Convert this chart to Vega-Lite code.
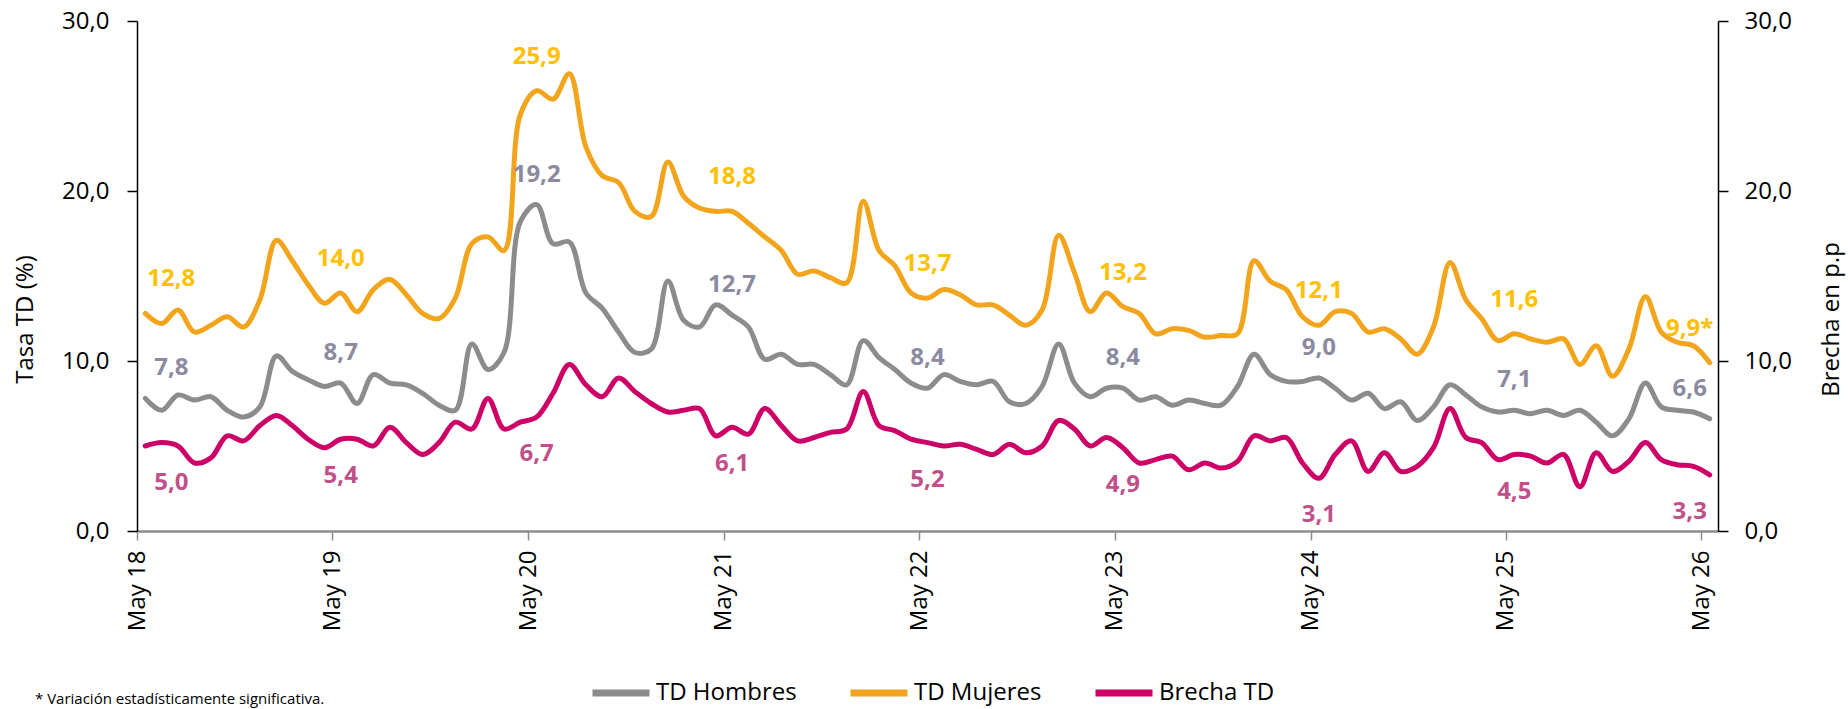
{
  "$schema": "https://vega.github.io/schema/vega-lite/v6.json",
  "width": 1581,
  "height": 510,
  "autosize": {"type": "none"},
  "padding": {"left": 137, "top": 21, "right": 130, "bottom": 178},
  "background": "white",
  "config": {
    "view": {"stroke": null},
    "font": "Open Sans",
    "axis": {"labelFont": "Open Sans", "titleFont": "Open Sans", "grid": false}
  },
  "title": {
    "text": "* Variación estadísticamente significativa.",
    "orient": "top",
    "anchor": "start",
    "frame": "group",
    "font": "Open Sans",
    "fontSize": 15,
    "fontWeight": "normal",
    "color": "#000000",
    "baseline": "middle",
    "dx": -102,
    "dy": 705,
    "offset": 0
  },
  "datasets": {
    "serie": [
      {"d": "2018-05-01", "hombres": 7.8, "mujeres": 12.8, "brecha": 5.0},
      {"d": "2018-06-01", "hombres": 7.1, "mujeres": 12.2, "brecha": 5.2},
      {"d": "2018-07-01", "hombres": 8.0, "mujeres": 13.0, "brecha": 5.0},
      {"d": "2018-08-01", "hombres": 7.7, "mujeres": 11.7, "brecha": 4.0},
      {"d": "2018-09-01", "hombres": 7.9, "mujeres": 12.1, "brecha": 4.3},
      {"d": "2018-10-01", "hombres": 7.1, "mujeres": 12.6, "brecha": 5.6},
      {"d": "2018-11-01", "hombres": 6.7, "mujeres": 12.0, "brecha": 5.3},
      {"d": "2018-12-01", "hombres": 7.3, "mujeres": 13.6, "brecha": 6.2},
      {"d": "2019-01-01", "hombres": 10.3, "mujeres": 17.1, "brecha": 6.8},
      {"d": "2019-02-01", "hombres": 9.4, "mujeres": 15.9, "brecha": 6.2},
      {"d": "2019-03-01", "hombres": 8.9, "mujeres": 14.5, "brecha": 5.4},
      {"d": "2019-04-01", "hombres": 8.5, "mujeres": 13.4, "brecha": 4.9},
      {"d": "2019-05-01", "hombres": 8.7, "mujeres": 14.0, "brecha": 5.4},
      {"d": "2019-06-01", "hombres": 7.5, "mujeres": 12.9, "brecha": 5.4},
      {"d": "2019-07-01", "hombres": 9.2, "mujeres": 14.2, "brecha": 5.0},
      {"d": "2019-08-01", "hombres": 8.7, "mujeres": 14.8, "brecha": 6.1},
      {"d": "2019-09-01", "hombres": 8.6, "mujeres": 13.9, "brecha": 5.2},
      {"d": "2019-10-01", "hombres": 8.1, "mujeres": 12.8, "brecha": 4.5},
      {"d": "2019-11-01", "hombres": 7.4, "mujeres": 12.5, "brecha": 5.2},
      {"d": "2019-12-01", "hombres": 7.1, "mujeres": 13.7, "brecha": 6.4},
      {"d": "2020-01-01", "hombres": 11.0, "mujeres": 16.9, "brecha": 6.0},
      {"d": "2020-02-01", "hombres": 9.5, "mujeres": 17.3, "brecha": 7.8},
      {"d": "2020-03-01", "hombres": 10.5, "mujeres": 16.5, "brecha": 6.0},
      {"d": "2020-04-01", "hombres": 18.2, "mujeres": 24.5, "brecha": 6.4},
      {"d": "2020-05-01", "hombres": 19.2, "mujeres": 25.9, "brecha": 6.7},
      {"d": "2020-06-01", "hombres": 16.9, "mujeres": 25.4, "brecha": 8.1},
      {"d": "2020-07-01", "hombres": 17.0, "mujeres": 26.9, "brecha": 9.8},
      {"d": "2020-08-01", "hombres": 14.0, "mujeres": 22.6, "brecha": 8.6},
      {"d": "2020-09-01", "hombres": 13.1, "mujeres": 20.9, "brecha": 7.9},
      {"d": "2020-10-01", "hombres": 11.7, "mujeres": 20.5, "brecha": 9.0},
      {"d": "2020-11-01", "hombres": 10.5, "mujeres": 18.8, "brecha": 8.2},
      {"d": "2020-12-01", "hombres": 10.7, "mujeres": 18.5, "brecha": 7.5},
      {"d": "2021-01-01", "hombres": 14.7, "mujeres": 21.7, "brecha": 7.0},
      {"d": "2021-02-01", "hombres": 12.4, "mujeres": 19.7, "brecha": 7.1},
      {"d": "2021-03-01", "hombres": 12.0, "mujeres": 19.0, "brecha": 7.2},
      {"d": "2021-04-01", "hombres": 13.3, "mujeres": 18.8, "brecha": 5.6},
      {"d": "2021-05-01", "hombres": 12.7, "mujeres": 18.8, "brecha": 6.1},
      {"d": "2021-06-01", "hombres": 12.0, "mujeres": 18.1, "brecha": 5.7},
      {"d": "2021-07-01", "hombres": 10.1, "mujeres": 17.3, "brecha": 7.2},
      {"d": "2021-08-01", "hombres": 10.4, "mujeres": 16.5, "brecha": 6.2},
      {"d": "2021-09-01", "hombres": 9.8, "mujeres": 15.1, "brecha": 5.3},
      {"d": "2021-10-01", "hombres": 9.8, "mujeres": 15.3, "brecha": 5.5},
      {"d": "2021-11-01", "hombres": 9.2, "mujeres": 14.9, "brecha": 5.8},
      {"d": "2021-12-01", "hombres": 8.6, "mujeres": 14.6, "brecha": 6.0},
      {"d": "2022-01-01", "hombres": 11.2, "mujeres": 19.4, "brecha": 8.2},
      {"d": "2022-02-01", "hombres": 10.2, "mujeres": 16.5, "brecha": 6.2},
      {"d": "2022-03-01", "hombres": 9.5, "mujeres": 15.6, "brecha": 5.9},
      {"d": "2022-04-01", "hombres": 8.7, "mujeres": 14.0, "brecha": 5.4},
      {"d": "2022-05-01", "hombres": 8.4, "mujeres": 13.7, "brecha": 5.2},
      {"d": "2022-06-01", "hombres": 9.2, "mujeres": 14.2, "brecha": 5.0},
      {"d": "2022-07-01", "hombres": 8.8, "mujeres": 13.9, "brecha": 5.1},
      {"d": "2022-08-01", "hombres": 8.6, "mujeres": 13.3, "brecha": 4.8},
      {"d": "2022-09-01", "hombres": 8.8, "mujeres": 13.3, "brecha": 4.5},
      {"d": "2022-10-01", "hombres": 7.6, "mujeres": 12.7, "brecha": 5.1},
      {"d": "2022-11-01", "hombres": 7.5, "mujeres": 12.1, "brecha": 4.6},
      {"d": "2022-12-01", "hombres": 8.5, "mujeres": 13.0, "brecha": 5.0},
      {"d": "2023-01-01", "hombres": 11.0, "mujeres": 17.4, "brecha": 6.5},
      {"d": "2023-02-01", "hombres": 8.7, "mujeres": 15.2, "brecha": 6.0},
      {"d": "2023-03-01", "hombres": 7.9, "mujeres": 12.9, "brecha": 5.0},
      {"d": "2023-04-01", "hombres": 8.4, "mujeres": 14.0, "brecha": 5.5},
      {"d": "2023-05-01", "hombres": 8.4, "mujeres": 13.2, "brecha": 4.9},
      {"d": "2023-06-01", "hombres": 7.7, "mujeres": 12.8, "brecha": 4.0},
      {"d": "2023-07-01", "hombres": 7.9, "mujeres": 11.6, "brecha": 4.2},
      {"d": "2023-08-01", "hombres": 7.4, "mujeres": 11.9, "brecha": 4.4},
      {"d": "2023-09-01", "hombres": 7.7, "mujeres": 11.8, "brecha": 3.6},
      {"d": "2023-10-01", "hombres": 7.5, "mujeres": 11.4, "brecha": 4.0},
      {"d": "2023-11-01", "hombres": 7.4, "mujeres": 11.5, "brecha": 3.7},
      {"d": "2023-12-01", "hombres": 8.5, "mujeres": 11.6, "brecha": 4.1},
      {"d": "2024-01-01", "hombres": 10.4, "mujeres": 15.9, "brecha": 5.6},
      {"d": "2024-02-01", "hombres": 9.2, "mujeres": 14.7, "brecha": 5.3},
      {"d": "2024-03-01", "hombres": 8.8, "mujeres": 14.2, "brecha": 5.5},
      {"d": "2024-04-01", "hombres": 8.8, "mujeres": 12.6, "brecha": 4.0},
      {"d": "2024-05-01", "hombres": 9.0, "mujeres": 12.1, "brecha": 3.1},
      {"d": "2024-06-01", "hombres": 8.4, "mujeres": 12.9, "brecha": 4.5},
      {"d": "2024-07-01", "hombres": 7.7, "mujeres": 12.8, "brecha": 5.3},
      {"d": "2024-08-01", "hombres": 8.1, "mujeres": 11.7, "brecha": 3.5},
      {"d": "2024-09-01", "hombres": 7.2, "mujeres": 11.9, "brecha": 4.6},
      {"d": "2024-10-01", "hombres": 7.6, "mujeres": 11.3, "brecha": 3.5},
      {"d": "2024-11-01", "hombres": 6.5, "mujeres": 10.4, "brecha": 3.8},
      {"d": "2024-12-01", "hombres": 7.3, "mujeres": 12.0, "brecha": 4.9},
      {"d": "2025-01-01", "hombres": 8.6, "mujeres": 15.8, "brecha": 7.2},
      {"d": "2025-02-01", "hombres": 8.0, "mujeres": 13.6, "brecha": 5.5},
      {"d": "2025-03-01", "hombres": 7.3, "mujeres": 12.5, "brecha": 5.2},
      {"d": "2025-04-01", "hombres": 7.0, "mujeres": 11.2, "brecha": 4.2},
      {"d": "2025-05-01", "hombres": 7.1, "mujeres": 11.6, "brecha": 4.5},
      {"d": "2025-06-01", "hombres": 6.9, "mujeres": 11.3, "brecha": 4.4},
      {"d": "2025-07-01", "hombres": 7.1, "mujeres": 11.1, "brecha": 4.0},
      {"d": "2025-08-01", "hombres": 6.8, "mujeres": 11.3, "brecha": 4.5},
      {"d": "2025-09-01", "hombres": 7.1, "mujeres": 9.8, "brecha": 2.6},
      {"d": "2025-10-01", "hombres": 6.4, "mujeres": 10.9, "brecha": 4.6},
      {"d": "2025-11-01", "hombres": 5.6, "mujeres": 9.1, "brecha": 3.5},
      {"d": "2025-12-01", "hombres": 6.6, "mujeres": 10.7, "brecha": 4.1},
      {"d": "2026-01-01", "hombres": 8.7, "mujeres": 13.8, "brecha": 5.2},
      {"d": "2026-02-01", "hombres": 7.3, "mujeres": 11.7, "brecha": 4.2},
      {"d": "2026-03-01", "hombres": 7.1, "mujeres": 11.1, "brecha": 3.9},
      {"d": "2026-04-01", "hombres": 7.0, "mujeres": 10.9, "brecha": 3.8},
      {"d": "2026-05-01", "hombres": 6.6, "mujeres": 9.9, "brecha": 3.3}
    ],
    "etiquetas": [
      {"d": "2018-05-01", "serie": "mujeres", "valor": 12.8, "t": "12,8"},
      {"d": "2019-05-01", "serie": "mujeres", "valor": 14.0, "t": "14,0"},
      {"d": "2020-05-01", "serie": "mujeres", "valor": 25.9, "t": "25,9"},
      {"d": "2021-05-01", "serie": "mujeres", "valor": 18.8, "t": "18,8"},
      {"d": "2022-05-01", "serie": "mujeres", "valor": 13.7, "t": "13,7"},
      {"d": "2023-05-01", "serie": "mujeres", "valor": 13.2, "t": "13,2"},
      {"d": "2024-05-01", "serie": "mujeres", "valor": 12.1, "t": "12,1"},
      {"d": "2025-05-01", "serie": "mujeres", "valor": 11.6, "t": "11,6"},
      {"d": "2026-05-01", "serie": "mujeres", "valor": 9.9, "t": "9,9*"},
      {"d": "2018-05-01", "serie": "hombres", "valor": 7.8, "t": "7,8"},
      {"d": "2019-05-01", "serie": "hombres", "valor": 8.7, "t": "8,7"},
      {"d": "2020-05-01", "serie": "hombres", "valor": 19.2, "t": "19,2"},
      {"d": "2021-05-01", "serie": "hombres", "valor": 12.7, "t": "12,7"},
      {"d": "2022-05-01", "serie": "hombres", "valor": 8.4, "t": "8,4"},
      {"d": "2023-05-01", "serie": "hombres", "valor": 8.4, "t": "8,4"},
      {"d": "2024-05-01", "serie": "hombres", "valor": 9.0, "t": "9,0"},
      {"d": "2025-05-01", "serie": "hombres", "valor": 7.1, "t": "7,1"},
      {"d": "2026-05-01", "serie": "hombres", "valor": 6.6, "t": "6,6"},
      {"d": "2018-05-01", "serie": "brecha", "valor": 5.0, "t": "5,0"},
      {"d": "2019-05-01", "serie": "brecha", "valor": 5.4, "t": "5,4"},
      {"d": "2020-05-01", "serie": "brecha", "valor": 6.7, "t": "6,7"},
      {"d": "2021-05-01", "serie": "brecha", "valor": 6.1, "t": "6,1"},
      {"d": "2022-05-01", "serie": "brecha", "valor": 5.2, "t": "5,2"},
      {"d": "2023-05-01", "serie": "brecha", "valor": 4.9, "t": "4,9"},
      {"d": "2024-05-01", "serie": "brecha", "valor": 3.1, "t": "3,1"},
      {"d": "2025-05-01", "serie": "brecha", "valor": 4.5, "t": "4,5"},
      {"d": "2026-05-01", "serie": "brecha", "valor": 3.3, "t": "3,3"}
    ]
  },
  "layer": [
    {
      "data": {"name": "serie"},
      "transform": [{"fold": ["hombres", "mujeres"], "as": ["serie", "valor"]}],
      "mark": {"type": "line", "interpolate": "catmull-rom", "strokeWidth": 5, "strokeCap": "round", "strokeJoin": "round"},
      "encoding": {
        "x": {
          "field": "d", "type": "temporal", "timeUnit": "utcyearmonth", "bandPosition": 0.5,
          "scale": {"domain": [{"year": 2018, "month": 5, "date": 1, "utc": true}, {"year": 2026, "month": 6, "date": 1, "utc": true}], "nice": false},
          "axis": {
            "values": [
              {"year": 2018, "month": 5, "date": 1, "utc": true},
              {"year": 2019, "month": 5, "date": 1, "utc": true},
              {"year": 2020, "month": 5, "date": 1, "utc": true},
              {"year": 2021, "month": 5, "date": 1, "utc": true},
              {"year": 2022, "month": 5, "date": 1, "utc": true},
              {"year": 2023, "month": 5, "date": 1, "utc": true},
              {"year": 2024, "month": 5, "date": 1, "utc": true},
              {"year": 2025, "month": 5, "date": 1, "utc": true},
              {"year": 2026, "month": 5, "date": 1, "utc": true}
            ],
            "labelExpr": "utcFormat(datum.value, '%b %y')",
            "labelAngle": -90,
            "labelAlign": "right",
            "labelBaseline": "middle",
            "labelFontSize": 24,
            "labelColor": "#000000",
            "labelPadding": 10,
            "labelFlush": false,
            "labelOverlap": false,
            "tickSize": 9,
            "tickWidth": 1.5,
            "tickColor": "#8c8c8c",
            "domainColor": "#8c8c8c",
            "domainWidth": 2.5,
            "title": null
          }
        },
        "y": {
          "field": "valor", "type": "quantitative",
          "scale": {"domain": [0, 30], "nice": false},
          "axis": {
            "orient": "left",
            "values": [0, 10, 20, 30],
            "labelExpr": "replace(format(datum.value, '.1f'), '.', ',')",
            "labelFontSize": 24,
            "labelColor": "#000000",
            "labelPadding": 18,
            "tickSize": 10,
            "tickColor": "#000000",
            "domainColor": "#000000",
            "domainWidth": 1.5,
            "tickWidth": 1.5,
            "title": "Tasa  TD (%)",
            "titleFontSize": 24,
            "titleFontWeight": "normal",
            "titleColor": "#000000",
            "titleAngle": 270,
            "titleBaseline": "middle",
            "titleAlign": "center",
            "titleX": -112,
            "titleY": 298
          }
        },
        "color": {
          "field": "serie", "type": "nominal",
          "scale": {"domain": ["hombres", "mujeres", "brecha"], "range": ["#8c8c8c", "#f2a51c", "#cc0066"]},
          "legend": {
            "orient": "none",
            "legendX": 452,
            "legendY": 640,
            "direction": "horizontal",
            "title": null,
            "symbolType": "stroke",
            "symbolSize": 3249,
            "symbolStrokeWidth": 7,
            "labelFont": "Open Sans",
            "labelFontSize": 24,
            "labelColor": "#000000",
            "labelOffset": 3,
            "columnPadding": 39,
            "padding": 0,
            "labelExpr": "datum.label == 'hombres' ? 'TD Hombres' : (datum.label == 'mujeres' ? 'TD Mujeres' : 'Brecha TD')"
          }
        }
      }
    },
    {
      "data": {"name": "serie"},
      "transform": [{"fold": ["brecha"], "as": ["serie", "valor"]}],
      "mark": {"type": "line", "interpolate": "catmull-rom", "strokeWidth": 5, "strokeCap": "round", "strokeJoin": "round"},
      "encoding": {
        "x": {"field": "d", "type": "temporal", "timeUnit": "utcyearmonth", "bandPosition": 0.5},
        "y": {
          "field": "valor", "type": "quantitative",
          "scale": {"domain": [0, 30], "nice": false},
          "axis": {
            "orient": "right",
            "values": [0, 10, 20, 30],
            "labelExpr": "replace(format(datum.value, '.1f'), '.', ',')",
            "labelFontSize": 24,
            "labelColor": "#000000",
            "labelPadding": 16,
            "tickSize": 10,
            "tickColor": "#000000",
            "domainColor": "#000000",
            "domainWidth": 1.5,
            "tickWidth": 1.5,
            "title": "Brecha en p.p",
            "titleFontSize": 24,
            "titleFontWeight": "normal",
            "titleColor": "#000000",
            "titleAngle": 270,
            "titleBaseline": "middle",
            "titleAlign": "center",
            "titleX": 113,
            "titleY": 298
          }
        },
        "color": {"field": "serie", "type": "nominal"}
      }
    },
    {
      "data": {"name": "etiquetas"},
      "mark": {
        "type": "text",
        "font": "Open Sans",
        "fontWeight": "bold",
        "fontSize": 24,
        "baseline": "middle",
        "align": "center",
        "dx": {"expr": "utcyear(datum.d) == 2018 ? 26 : (utcyear(datum.d) == 2026 ? -20 : 0)"},
        "dy": {"expr": "datum.serie == 'brecha' ? 37 : (datum.serie == 'mujeres' ? -34 : -30)"},
        "fill": {"expr": "datum.serie == 'mujeres' ? '#ffc000' : (datum.serie == 'hombres' ? '#8b8aa0' : '#c0508a')"}
      },
      "encoding": {
        "x": {"field": "d", "type": "temporal", "timeUnit": "utcyearmonth", "bandPosition": 0.5},
        "y": {"field": "valor", "type": "quantitative", "scale": {"domain": [0, 30], "nice": false}, "axis": null},
        "text": {"field": "t", "type": "nominal"}
      }
    }
  ],
  "resolve": {"scale": {"y": "independent"}}
}
